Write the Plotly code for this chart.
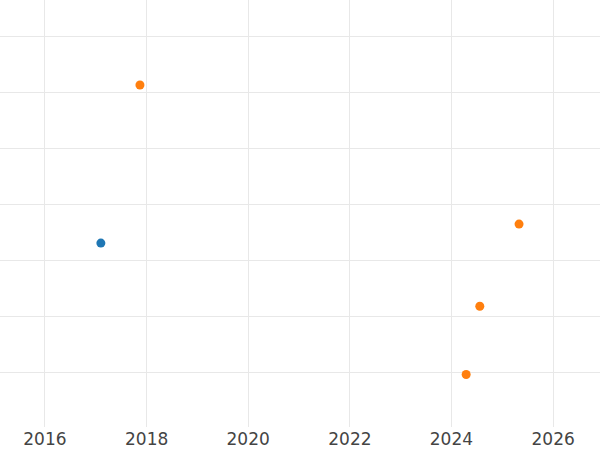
import plotly.graph_objects as go

blue_dates = ["2017-02-06"]
blue_values = [3.31]
orange_dates = ["2017-11-14", "2025-05-01", "2024-07-23", "2024-04-16"]
orange_values = [6.14, 3.65, 2.18, 0.96]

fig = go.Figure()
fig.add_trace(go.Scatter(x=blue_dates, y=blue_values, mode="markers",
                         marker=dict(color="#1f77b4", size=9), showlegend=False))
fig.add_trace(go.Scatter(x=orange_dates, y=orange_values, mode="markers",
                         marker=dict(color="#ff7f0e", size=9), showlegend=False))

fig.update_layout(
    width=600, height=450,
    margin=dict(l=0, r=0, t=0, b=23),
    paper_bgcolor="white", plot_bgcolor="white",
    font=dict(family="DejaVu Sans", color="#444"),
    xaxis=dict(type="date", range=["2015-02-12", "2026-12-04"], dtick="M24",
               tick0="2016-01-01", tickformat="%Y", showgrid=True, gridcolor="#e8e8e8",
               gridwidth=1.3, zeroline=False, showline=False, ticks="", tickfont=dict(size=17)),
    yaxis=dict(range=[0.02, 7.66], dtick=1, showgrid=True, gridcolor="#e8e8e8",
               gridwidth=1.3, zeroline=False, showline=False, showticklabels=False, ticks=""),
)
fig.write_html("out.html", config={"displayModeBar": False},
               post_script="document.body.style.margin='0';")
